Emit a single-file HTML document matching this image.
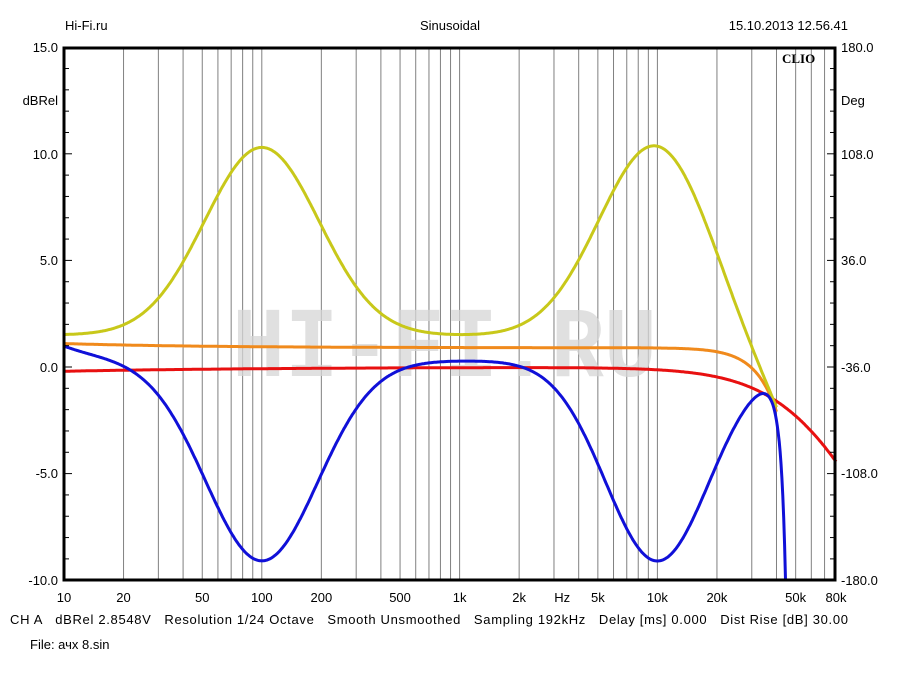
<!DOCTYPE html>
<html><head><meta charset="utf-8"><style>
body{margin:0;background:#fff;width:900px;height:675px;overflow:hidden}
svg{display:block;font-family:"Liberation Sans",sans-serif}
text{white-space:pre}
</style></head><body>
<svg id="s" width="900" height="675" xmlns="http://www.w3.org/2000/svg" xml:space="preserve">
<rect width="900" height="675" fill="#fff"/>
<g id="grid"></g>
<g id="wm" fill="#d6d6d6" font-weight="bold" font-size="100" font-family="Liberation Mono,monospace" opacity="0.75">
<text x="232" y="376" textLength="425" lengthAdjust="spacingAndGlyphs">HI-FI.RU</text>
</g>
<g id="curves" fill="none" stroke-width="3" stroke-linejoin="round"></g>
<rect x="64" y="48" width="771" height="532" fill="none" stroke="#000" stroke-width="3"/>
<g id="ticks" stroke="#000" stroke-width="1"></g>
<g font-size="13" fill="#000">
<text x="65" y="30">Hi-Fi.ru</text>
<text x="450" y="30" text-anchor="middle">Sinusoidal</text>
<text x="848" y="30" text-anchor="end">15.10.2013 12.56.41</text>
<text x="58" y="52" text-anchor="end">15.0</text>
<text x="58" y="105" text-anchor="end">dBRel</text>
<text x="58" y="159" text-anchor="end">10.0</text>
<text x="58" y="265" text-anchor="end">5.0</text>
<text x="58" y="372" text-anchor="end">0.0</text>
<text x="58" y="478" text-anchor="end">-5.0</text>
<text x="58" y="585" text-anchor="end">-10.0</text>
<text x="841" y="52">180.0</text>
<text x="841" y="105">Deg</text>
<text x="841" y="159">108.0</text>
<text x="841" y="265">36.0</text>
<text x="841" y="372">-36.0</text>
<text x="841" y="478">-108.0</text>
<text x="841" y="585">-180.0</text>
<text x="10" y="624" textLength="838" lengthAdjust="spacing">CH A   dBRel 2.8548V   Resolution 1/24 Octave   Smooth Unsmoothed   Sampling 192kHz   Delay [ms] 0.000   Dist Rise [dB] 30.00</text>
<text x="30" y="649">File: ачх 8.sin</text>
<text x="782" y="63" font-family="Liberation Serif,serif" font-weight="bold" font-size="13">CLIO</text>
</g>
<g id="xl" font-size="13" text-anchor="middle"></g>
</svg>
<script>
var NS="http://www.w3.org/2000/svg";
function px(f){return 64+197.8*Math.log10(f/10);}
function py(d){return 367-21.32*d;}
function el(p,t,a,txt){var e=document.createElementNS(NS,t);for(var k in a)e.setAttribute(k,a[k]);if(txt!=null)e.textContent=txt;document.getElementById(p).appendChild(e);return e;}
for(var dec=10;dec<=10000;dec*=10)for(var m=1;m<10;m++){var f=dec*m;if(f<=10||f>=80000)continue;var x=px(f);el("grid","line",{x1:x,x2:x,y1:48,y2:580,stroke:"#808080","stroke-width":1});}
for(var d=-10;d<=15;d++){var y=py(d);el("ticks","line",{x1:64,x2:d%5==0?72:69,y1:y,y2:y});el("ticks","line",{x1:835,x2:d%5==0?827:830,y1:y,y2:y});}
var L=[[10,"10"],[20,"20"],[50,"50"],[100,"100"],[200,"200"],[500,"500"],[1000,"1k"],[2000,"2k"],[3300,"Hz"],[5000,"5k"],[10000,"10k"],[20000,"20k"],[50000,"50k"],[80000,"80k"]];
L.forEach(function(l){el("xl","text",{x:px(l[0]),y:602},l[1]);});
function g(f,c,s){var u=Math.log10(f/c)/s;return Math.exp(-u*u);}
function yellow(f){return 1.5+8.8*g(f,100,0.41)+9.5*g(f,10000,0.41)-1.7*Math.pow(f/20000,1.4);}
function blue(f){var r=f/49000;return 0.3+0.7*Math.pow(10/f,2)-9.4*g(f,100,0.4)-9.4*g(f,10000,0.37)-2*Math.pow(r,8)/(1-r);}
function orange(f){return 0.9+0.2*Math.pow(10/f,0.6)-3*Math.pow(f/40000,4);}
function red(f){return -0.2*Math.pow(10/f,0.4)-10*Math.log10(1+Math.pow(f/60000,2));}
function curve(fn,col,fmax){var p="",N=800;for(var i=0;i<=N;i++){var f=10*Math.pow(fmax/10,i/N);var v=fn(f);var y=py(v);if(y>580){p+=(p?"L":"M")+px(f).toFixed(1)+",580";break;}p+=(p?"L":"M")+px(f).toFixed(1)+","+y.toFixed(1);}el("curves","path",{d:p,stroke:col});}
curve(red,"#e81010",80000);
curve(orange,"#f08a1c",40000);
curve(yellow,"#c8c81a",40000);
curve(blue,"#1010d8",48900);
</script>
</body></html>
